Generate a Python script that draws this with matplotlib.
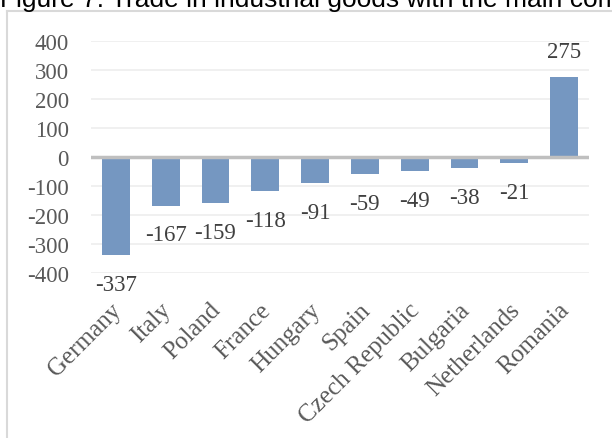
import numpy as np
import matplotlib.pyplot as plt
import matplotlib.transforms as mtransforms
from matplotlib.lines import Line2D

# trade balance by partner country
countries = ['Germany', 'Italy', 'Poland', 'France', 'Hungary', 'Spain',
             'Czech Republic', 'Bulgaria', 'Netherlands', 'Romania']
balance = [-337, -167, -159, -118, -91, -59, -49, -38, -21, 275]
yticks = [-400, -300, -200, -100, 0, 100, 200, 300, 400]

fig = plt.figure(figsize=(6.12, 4.39), dpi=100)
ax = fig.add_axes([0.1487, 0.3752, 0.8137, 0.5300])

x = np.arange(len(countries))
ax.bar(x, balance, width=0.56, color='#7597C1', zorder=3)

ax.set_xlim(-0.5, len(countries) - 0.5)
ax.set_ylim(-400, 400)
ax.set_yticks(yticks)
ax.set_yticklabels([str(v) for v in yticks], family='Liberation Serif',
                   fontsize=16.5, color='#595959')
ax.tick_params(axis='y', length=0, pad=16)

# gridlines and zero axis
for v in yticks:
    if v != 0:
        ax.axhline(v, color='#EDEDED', lw=1.2, zorder=1)
ax.axhline(0, color='#BFBFBF', lw=2.5, zorder=4)

for s in ax.spines.values():
    s.set_visible(False)

# category labels
ax.set_xticks(x)
ax.set_xticklabels(countries, rotation=45, ha='right', va='top',
                   rotation_mode='anchor', family='Liberation Serif',
                   fontsize=18, color='#595959')
ax.tick_params(axis='x', length=0, pad=18)
shift = mtransforms.ScaledTranslation(-6 / 100, 0, fig.dpi_scale_trans)
for lab in ax.get_xticklabels():
    lab.set_transform(lab.get_transform() + shift)

# value labels
for xi, v in zip(x, balance):
    off = 18 if v > 0 else -21
    ax.annotate(str(v), (xi, v), xytext=(0, off), textcoords='offset points',
                ha='center', va='center', family='Liberation Serif',
                fontsize=16.5, color='#404040', annotation_clip=False)

# outer chart frame (cut off by the screenshot)
fig.add_artist(Line2D([6.5 / 612, 6.5 / 612], [0, 1 - 12 / 439],
                      color='#D9D9D9', lw=1.5))
fig.add_artist(Line2D([6.5 / 612, 1], [1 - 12 / 439, 1 - 12 / 439],
                      color='#D9D9D9', lw=1.5))

# caption, partly cut off at the top
fig.text(0.0, 1 - 6.5 / 439, 'Figure 7. Trade in industrial goods with the main commodity partners',
         family='Liberation Sans', fontsize=19, color='#000000',
         ha='left', va='baseline')

fig.savefig('out.png', dpi=100)
